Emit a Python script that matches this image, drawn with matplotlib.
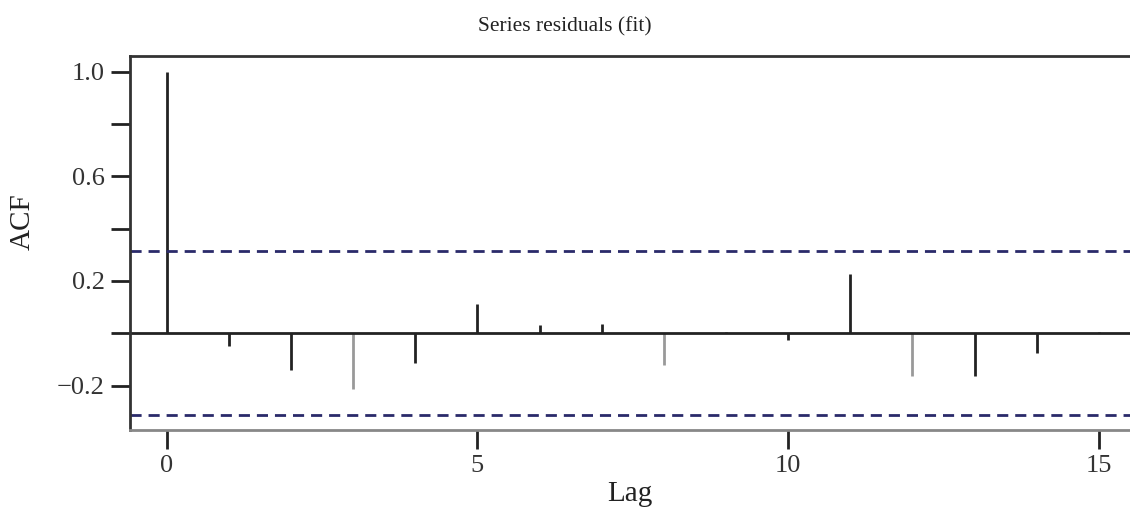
import matplotlib
matplotlib.use("Agg")
from matplotlib import pyplot as plt

plt.rcParams['font.family'] = ['Liberation Serif', 'DejaVu Serif']

# ACF of the residuals
lags = list(range(0, 16))
acf = [1.0, -0.05, -0.14, -0.215, -0.115, 0.11, 0.03, 0.035,
       -0.12, 0.005, -0.025, 0.225, -0.165, -0.163, -0.075, 0.005]
# a few spikes are drawn in grey in the original
colors = ['#222222', '#222222', '#222222', '#999999', '#222222', '#222222',
          '#222222', '#222222', '#999999', '#222222', '#222222', '#222222',
          '#999999', '#222222', '#222222', '#222222']
conf = 0.313

yticks = [-0.2, 0.0, 0.2, 0.4, 0.6, 0.8, 1.0]
ytick_labels = ["\u22120.2", "", "0.2", "", "0.6", "", "1.0"]
xticks = [0, 5, 10, 15]

fig = plt.figure(figsize=(11.3, 5.09), dpi=100)
ax = fig.add_axes([130/1130, 1-430/509, 1-130/1130, (430-56)/509])

ax.vlines(lags, 0, acf, colors=colors, linewidth=2)
ax.axhline(0, color='#222222', linewidth=2)
ax.axhline(conf, color='#2a2a6a', linewidth=2, linestyle=(0, (4, 2.5)))
ax.axhline(-conf, color='#2a2a6a', linewidth=2, linestyle=(0, (4, 2.5)))

ax.set_xlim(-0.59, 15.5)
ax.set_ylim(-0.37, 1.06)

ax.set_yticks(yticks)
ax.set_yticklabels(ytick_labels)
ax.set_xticks(xticks)
ax.tick_params(axis='both', length=14, width=2, color='#222222',
               labelsize=19, labelcolor='#333333', pad=4)

for s in ['left', 'top']:
    ax.spines[s].set_linewidth(2)
    ax.spines[s].set_color('#333333')
ax.spines['bottom'].set_linewidth(2)
ax.spines['bottom'].set_color('#888888')
ax.spines['right'].set_visible(False)

fig.text(565/1130, 1-27/509, "Series residuals (fit)", ha='center', va='center',
         fontsize=15.5, color='#222222')
ax.set_xlabel("Lag", fontsize=21, color='#222222')
ax.set_ylabel("ACF", fontsize=21, color='#222222')
ax.xaxis.set_label_coords((630-130)/1000, (430-494)/374)
ax.yaxis.set_label_coords((23-130)/1000, (430-222)/374)
ax.xaxis.label.set_va('center')
ax.yaxis.label.set_va('center')

plt.savefig("out.png", dpi=100)
